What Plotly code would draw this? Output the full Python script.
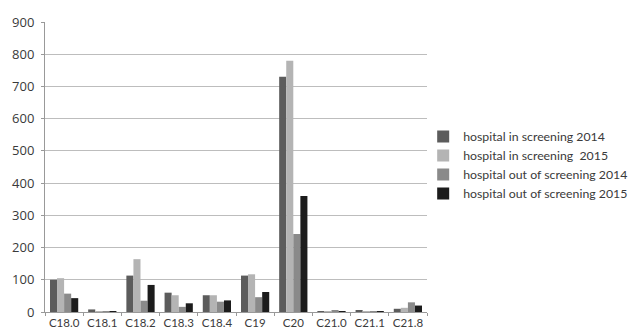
import plotly.graph_objects as go

categories = ["C18.0", "C18.1", "C18.2", "C18.3", "C18.4", "C19", "C20", "C21.0", "C21.1", "C21.8"]
in_2014 = [100, 8, 113, 60, 52, 113, 730, 2, 5, 10]
in_2015 = [105, 3, 164, 52, 52, 117, 780, 2, 2, 13]
out_2014 = [57, 1, 35, 16, 32, 46, 242, 4, 2, 30]
out_2015 = [43, 3, 84, 27, 36, 62, 360, 3, 2, 20]
series_names = ["hospital in screening 2014", "hospital in screening  2015",
                "hospital out of screening 2014", "hospital out of screening 2015"]
colors = ["#5c5c5c", "#b4b4b4", "#8a8a8a", "#1c1c1c"]
y_ticks = [0, 100, 200, 300, 400, 500, 600, 700, 800, 900]

fig = go.Figure()
for name, vals, c in zip(series_names, [in_2014, in_2015, out_2014, out_2015], colors):
    fig.add_trace(go.Bar(x=categories, y=vals, name=name, marker=dict(color=c, line=dict(width=0))))

# page body has an 8px margin, so the figure is sized/offset to compensate
fig.update_layout(
    width=631, height=325,
    margin=dict(l=37, r=212, t=14, b=21, autoexpand=False),
    paper_bgcolor="white", plot_bgcolor="white",
    barmode="group", bargap=0.26, bargroupgap=0,
    font=dict(family="Lato, Open Sans, sans-serif", size=12, color="#3a3a3a"),
    showlegend=True,
    legend=dict(x=0.99, y=0.507, xanchor="left", yanchor="middle",
                font=dict(size=12.3, color="#3a3a3a"), itemwidth=30,
                tracegroupgap=0, bgcolor="rgba(0,0,0,0)"),
    xaxis=dict(showline=True, linecolor="#999999", linewidth=1,
               ticks="outside", ticklen=3, tickcolor="#999999",
               tickson="boundaries", tickangle=0, automargin=False,
               tickfont=dict(size=11.5)),
    yaxis=dict(range=[0, 900], tickvals=y_ticks, showgrid=True,
               gridcolor="#bdbdbd", gridwidth=1, showline=True,
               linecolor="#999999", ticks="outside", ticklen=3,
               tickcolor="#999999", automargin=False, ticklabelstandoff=4,
               tickfont=dict(size=13, family="Open Sans, sans-serif"), zeroline=False),
)
fig.write_html("out.html")
